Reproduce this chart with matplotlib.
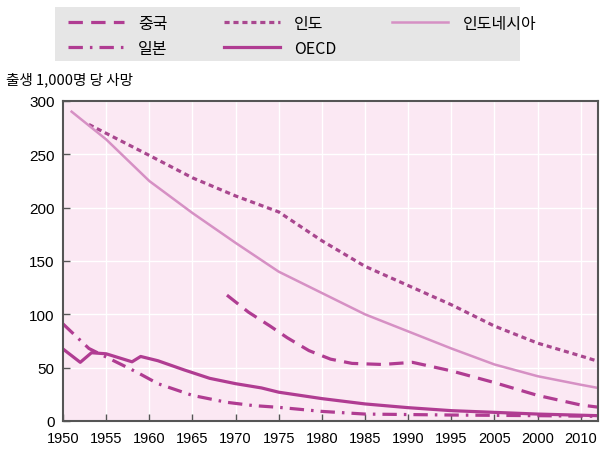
import matplotlib
matplotlib.use('Agg')
import matplotlib.pyplot as plt
from matplotlib.patches import Rectangle

plt.rcParams['font.family'] = ['Noto Sans CJK KR', 'DejaVu Sans']

# data (deaths per 1,000 births)
years_indonesia = [1951, 1955, 1960, 1965, 1970, 1975, 1980, 1985, 1990, 1995, 2000, 2005, 2010, 2012]
indonesia = [290, 264, 225, 195, 167, 140, 120, 100, 84, 68, 53, 42, 34, 31]

years_india = [1953, 1960, 1965, 1970, 1975, 1980, 1985, 1990, 1995, 2000, 2005, 2010, 2012]
india = [278, 249, 228, 211, 196, 169, 145, 127, 109, 89, 73, 61, 56]

years_china = [1969, 1971.5, 1974, 1976, 1978.5, 1981, 1983.5, 1987, 1990.5, 1995, 2000, 2005, 2010, 2012]
china = [118, 102, 89, 78, 66, 58, 54, 53, 55, 47, 36, 24, 15, 13]

years_japan = [1950, 1953, 1955.5, 1958.5, 1961, 1965, 1969, 1972, 1975, 1980, 1985, 1995, 2005, 2012]
japan = [91, 68, 58, 46, 35, 24, 17.5, 14.5, 12.8, 9, 6.5, 5.6, 5, 4.4]

years_oecd = [1950, 1952, 1953.3, 1955, 1958, 1959, 1961, 1964, 1967, 1970, 1973, 1975, 1980, 1985, 1990, 1995, 2005, 2012]
oecd = [67.5, 55, 64, 63, 55.5, 60.5, 56.5, 48, 40, 35, 31, 27, 21, 16, 12.5, 9.7, 6.5, 5]

xticks = list(range(1950, 2011, 5))
xlabels = ['1950', '1955', '1960', '1965', '1970', '1975', '1980', '1985',
           '1990', '1995', '2005', '2000', '2010']

dark = '#b03c92'
light = '#d690c4'

fig = plt.figure(figsize=(6.02, 4.56), dpi=100)
ax = fig.add_axes([63/602, 34/456, 535/602, 320/456])
ax.set_facecolor('#fbe8f3')

ax.plot(years_china, china, color=dark, lw=2.3, dashes=(4.5, 2.6), label='중국')
ax.plot(years_japan, japan, color=dark, lw=2.3, dashes=(4.5, 2.2, 0.8, 2.2), label='일본')
ax.plot(years_india, india, color='#a9478f', lw=2.3, dashes=(1.6, 1.2), label='인도')
ax.plot(years_oecd, oecd, color=dark, lw=2.3, label='OECD')
ax.plot(years_indonesia, indonesia, color=light, lw=1.8, label='인도네시아')

ax.set_xlim(1950, 2012)
ax.set_ylim(0, 300)
ax.set_xticks(xticks)
ax.set_xticklabels(xlabels, family='Liberation Sans', fontsize=10.5)
ax.set_yticks(range(0, 301, 50))
ax.set_yticklabels([str(v) for v in range(0, 301, 50)], family='Liberation Sans', fontsize=11)
ax.tick_params(direction='in', length=5, width=1, color='#555555')
ax.tick_params(axis='x', pad=7)
ax.tick_params(axis='y', pad=6)
ax.grid(True, color='white', lw=1)
ax.set_axisbelow(True)
for s in ax.spines.values():
    s.set_color('#555555')
    s.set_linewidth(1.5)

fig.text(6/602, 1 - 80/456, '출생 1,000명 당 사망', fontsize=10.5, va='center', ha='left')

# grey legend box
fig.patches.append(Rectangle((55/602, 1 - 62/456), 465/602, 54/456,
                             transform=fig.transFigure, facecolor='#e6e6e6',
                             edgecolor='none', zorder=0))
leg = fig.legend(loc='upper left', ncol=3, bbox_to_anchor=(68/602, 1 - 16/456),
                 fontsize=11.5, handlelength=3.5, frameon=False,
                 borderpad=0, borderaxespad=0, labelspacing=0.5,
                 handletextpad=0.9, columnspacing=3.5)

plt.savefig('out.png', dpi=100)
